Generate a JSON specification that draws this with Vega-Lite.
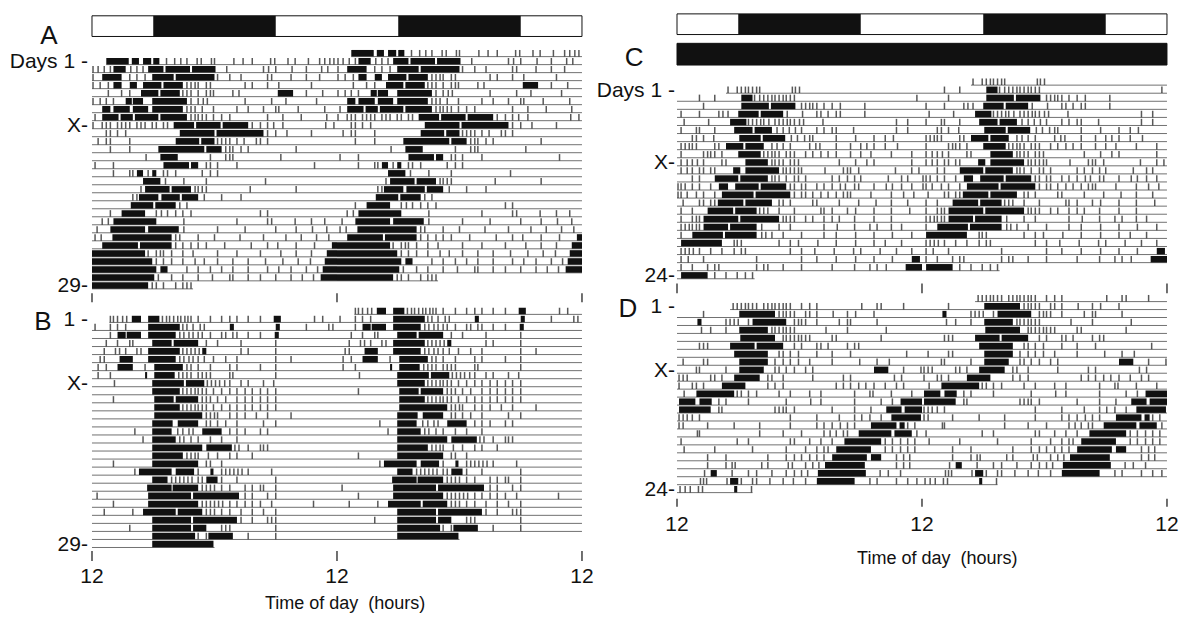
{
  "$schema": "https://vega.github.io/schema/vega-lite/v6.json",
  "width": 1183,
  "height": 620,
  "autosize": {"type": "fit", "contains": "padding"},
  "padding": 0,
  "background": "white",
  "config": {"view": {"stroke": null}, "text": {"font": "Liberation Sans", "color": "#111"}},
  "datasets": {
    "ld": [
      {"p": "A", "a": 6, "b": 18}, {"p": "A", "a": 30, "b": 42},
      {"p": "C", "a": 6, "b": 18}, {"p": "C", "a": 30, "b": 42}
    ],
    "base": [
      {"p":"A","r":1,"a":1.4,"b":24},{"p":"A","r":2,"a":0,"b":24},{"p":"A","r":3,"a":0,"b":24},{"p":"A","r":4,"a":0,"b":24},{"p":"A","r":5,"a":0,"b":24},{"p":"A","r":6,"a":0,"b":24},{"p":"A","r":7,"a":0,"b":24},{"p":"A","r":8,"a":0,"b":24},{"p":"A","r":9,"a":0,"b":24},{"p":"A","r":10,"a":0,"b":24},{"p":"A","r":11,"a":0,"b":24},{"p":"A","r":12,"a":0,"b":24},{"p":"A","r":13,"a":0,"b":24},{"p":"A","r":14,"a":0,"b":24},{"p":"A","r":15,"a":0,"b":24},{"p":"A","r":16,"a":0,"b":24},{"p":"A","r":17,"a":0,"b":24},{"p":"A","r":18,"a":0,"b":24},{"p":"A","r":19,"a":0,"b":24},{"p":"A","r":20,"a":0,"b":24},{"p":"A","r":21,"a":0,"b":24},{"p":"A","r":22,"a":0,"b":24},{"p":"A","r":23,"a":0,"b":24},{"p":"A","r":24,"a":0,"b":24},{"p":"A","r":25,"a":0,"b":24},{"p":"A","r":26,"a":0,"b":24},{"p":"A","r":27,"a":0,"b":24},{"p":"A","r":28,"a":0,"b":24},{"p":"A","r":29,"a":0,"b":9.9},
      {"p":"B","r":1,"a":1.7,"b":24},{"p":"B","r":2,"a":0,"b":24},{"p":"B","r":3,"a":0,"b":24},{"p":"B","r":4,"a":0,"b":24},{"p":"B","r":5,"a":0,"b":24},{"p":"B","r":6,"a":0,"b":24},{"p":"B","r":7,"a":0,"b":24},{"p":"B","r":8,"a":0,"b":24},{"p":"B","r":9,"a":0,"b":24},{"p":"B","r":10,"a":0,"b":24},{"p":"B","r":11,"a":0,"b":24},{"p":"B","r":12,"a":0,"b":24},{"p":"B","r":13,"a":0,"b":24},{"p":"B","r":14,"a":0,"b":24},{"p":"B","r":15,"a":0,"b":24},{"p":"B","r":16,"a":0,"b":24},{"p":"B","r":17,"a":0,"b":24},{"p":"B","r":18,"a":0,"b":24},{"p":"B","r":19,"a":0,"b":24},{"p":"B","r":20,"a":0,"b":24},{"p":"B","r":21,"a":0,"b":24},{"p":"B","r":22,"a":0,"b":24},{"p":"B","r":23,"a":0,"b":24},{"p":"B","r":24,"a":0,"b":24},{"p":"B","r":25,"a":0,"b":24},{"p":"B","r":26,"a":0,"b":24},{"p":"B","r":27,"a":0,"b":24},{"p":"B","r":28,"a":0,"b":24},{"p":"B","r":29,"a":0,"b":12.0},
      {"p":"C","r":1,"a":4.8,"b":24},{"p":"C","r":2,"a":0,"b":24},{"p":"C","r":3,"a":0,"b":24},{"p":"C","r":4,"a":0,"b":24},{"p":"C","r":5,"a":0,"b":24},{"p":"C","r":6,"a":0,"b":24},{"p":"C","r":7,"a":0,"b":24},{"p":"C","r":8,"a":0,"b":24},{"p":"C","r":9,"a":0,"b":24},{"p":"C","r":10,"a":0,"b":24},{"p":"C","r":11,"a":0,"b":24},{"p":"C","r":12,"a":0,"b":24},{"p":"C","r":13,"a":0,"b":24},{"p":"C","r":14,"a":0,"b":24},{"p":"C","r":15,"a":0,"b":24},{"p":"C","r":16,"a":0,"b":24},{"p":"C","r":17,"a":0,"b":24},{"p":"C","r":18,"a":0,"b":24},{"p":"C","r":19,"a":0,"b":24},{"p":"C","r":20,"a":0,"b":24},{"p":"C","r":21,"a":0,"b":24},{"p":"C","r":22,"a":0,"b":24},{"p":"C","r":23,"a":0,"b":24},{"p":"C","r":24,"a":0,"b":7.6},
      {"p":"D","r":1,"a":5.2,"b":24},{"p":"D","r":2,"a":0,"b":24},{"p":"D","r":3,"a":0,"b":24},{"p":"D","r":4,"a":0,"b":24},{"p":"D","r":5,"a":0,"b":24},{"p":"D","r":6,"a":0,"b":24},{"p":"D","r":7,"a":0,"b":24},{"p":"D","r":8,"a":0,"b":24},{"p":"D","r":9,"a":0,"b":24},{"p":"D","r":10,"a":0,"b":24},{"p":"D","r":11,"a":0,"b":24},{"p":"D","r":12,"a":0,"b":24},{"p":"D","r":13,"a":0,"b":24},{"p":"D","r":14,"a":0,"b":24},{"p":"D","r":15,"a":0,"b":24},{"p":"D","r":16,"a":0,"b":24},{"p":"D","r":17,"a":0,"b":24},{"p":"D","r":18,"a":0,"b":24},{"p":"D","r":19,"a":0,"b":24},{"p":"D","r":20,"a":0,"b":24},{"p":"D","r":21,"a":0,"b":24},{"p":"D","r":22,"a":0,"b":24},{"p":"D","r":23,"a":0,"b":24},{"p":"D","r":24,"a":0,"b":7.4}
    ],
    "bl": [
      {"p":"A","r":1,"a":1.4,"b":3.6},{"p":"A","r":1,"a":3.9,"b":4.6},{"p":"A","r":1,"a":5.0,"b":5.8},{"p":"A","r":1,"a":6.0,"b":6.6},
      {"p":"A","r":2,"a":2.1,"b":3.3},{"p":"A","r":2,"a":5.5,"b":7.0},{"p":"A","r":2,"a":7.2,"b":9.6},{"p":"A","r":2,"a":9.8,"b":12.1},
      {"p":"A","r":3,"a":1.0,"b":2.9},{"p":"A","r":3,"a":5.9,"b":8.0},{"p":"A","r":3,"a":8.2,"b":12.0},
      {"p":"A","r":4,"a":2.1,"b":2.9},{"p":"A","r":4,"a":3.7,"b":4.4},{"p":"A","r":4,"a":5.0,"b":6.8},{"p":"A","r":4,"a":7.0,"b":8.9},
      {"p":"A","r":5,"a":4.8,"b":6.5},{"p":"A","r":5,"a":6.7,"b":8.6},{"p":"A","r":5,"a":18.2,"b":19.7},
      {"p":"A","r":6,"a":3.3,"b":3.9},{"p":"A","r":6,"a":4.0,"b":5.0},{"p":"A","r":6,"a":5.9,"b":9.3},
      {"p":"A","r":7,"a":1.0,"b":1.8},{"p":"A","r":7,"a":2.1,"b":3.7},{"p":"A","r":7,"a":4.0,"b":5.5},{"p":"A","r":7,"a":5.9,"b":8.9},
      {"p":"A","r":8,"a":1.0,"b":2.6},{"p":"A","r":8,"a":2.8,"b":4.0},{"p":"A","r":8,"a":4.2,"b":6.5},{"p":"A","r":8,"a":6.7,"b":9.3},
      {"p":"A","r":9,"a":8.0,"b":10.0},{"p":"A","r":9,"a":10.2,"b":12.6},{"p":"A","r":9,"a":12.8,"b":15.3},
      {"p":"A","r":10,"a":8.6,"b":12.0},{"p":"A","r":10,"a":12.2,"b":16.8},
      {"p":"A","r":11,"a":8.2,"b":10.5},{"p":"A","r":11,"a":10.7,"b":12.0},
      {"p":"A","r":12,"a":6.5,"b":11.0},{"p":"A","r":12,"a":11.2,"b":12.7},
      {"p":"A","r":13,"a":6.7,"b":8.4},
      {"p":"A","r":14,"a":7.0,"b":9.5},{"p":"A","r":14,"a":9.7,"b":10.4},
      {"p":"A","r":15,"a":4.4,"b":5.0},{"p":"A","r":15,"a":5.9,"b":6.3},
      {"p":"A","r":16,"a":5.0,"b":6.7},
      {"p":"A","r":17,"a":5.2,"b":7.6},{"p":"A","r":17,"a":7.8,"b":9.7},
      {"p":"A","r":18,"a":4.6,"b":6.5},{"p":"A","r":18,"a":6.8,"b":8.6},{"p":"A","r":18,"a":8.8,"b":10.4},
      {"p":"A","r":19,"a":3.8,"b":6.0},{"p":"A","r":19,"a":6.2,"b":8.2},
      {"p":"A","r":20,"a":2.9,"b":5.2},
      {"p":"A","r":21,"a":2.1,"b":6.3},
      {"p":"A","r":22,"a":1.8,"b":5.2},{"p":"A","r":22,"a":5.5,"b":8.5},
      {"p":"A","r":23,"a":2.0,"b":7.8},
      {"p":"A","r":24,"a":1.0,"b":4.5},{"p":"A","r":24,"a":4.7,"b":7.8},{"p":"A","r":24,"a":23.5,"b":24},
      {"p":"A","r":25,"a":0,"b":5.2},{"p":"A","r":25,"a":23.0,"b":24},
      {"p":"A","r":26,"a":0,"b":5.9},{"p":"A","r":26,"a":22.8,"b":24},
      {"p":"A","r":27,"a":0,"b":6.3},{"p":"A","r":27,"a":6.7,"b":7.4},{"p":"A","r":27,"a":22.6,"b":24},
      {"p":"A","r":28,"a":0,"b":6.1},{"p":"A","r":28,"a":22.4,"b":24},
      {"p":"A","r":29,"a":0,"b":5.5},

      {"p":"B","r":1,"a":3.9,"b":4.8},{"p":"B","r":1,"a":5.5,"b":6.6},{"p":"B","r":1,"a":17.8,"b":18.5},
      {"p":"B","r":2,"a":5.5,"b":8.6},{"p":"B","r":2,"a":13.5,"b":13.9},{"p":"B","r":2,"a":18.0,"b":18.4},
      {"p":"B","r":3,"a":2.5,"b":3.3},{"p":"B","r":3,"a":3.4,"b":4.8},{"p":"B","r":3,"a":5.5,"b":8.2},{"p":"B","r":3,"a":17.9,"b":18.3},
      {"p":"B","r":4,"a":5.9,"b":7.8},{"p":"B","r":4,"a":8.0,"b":10.4},
      {"p":"B","r":5,"a":5.5,"b":8.6},{"p":"B","r":5,"a":10.8,"b":11.2},
      {"p":"B","r":6,"a":2.7,"b":4.0},{"p":"B","r":6,"a":5.5,"b":8.2},
      {"p":"B","r":7,"a":2.5,"b":4.0},{"p":"B","r":7,"a":6.1,"b":8.9},
      {"p":"B","r":8,"a":5.2,"b":5.4},{"p":"B","r":8,"a":6.1,"b":8.1},
      {"p":"B","r":9,"a":5.9,"b":9.0},{"p":"B","r":9,"a":9.2,"b":11.0},
      {"p":"B","r":10,"a":5.9,"b":8.6},
      {"p":"B","r":11,"a":6.1,"b":8.0},{"p":"B","r":11,"a":8.2,"b":10.4},
      {"p":"B","r":12,"a":6.1,"b":8.6},
      {"p":"B","r":13,"a":6.1,"b":10.8},
      {"p":"B","r":14,"a":5.9,"b":7.9},{"p":"B","r":14,"a":8.4,"b":10.4},
      {"p":"B","r":15,"a":5.9,"b":7.8},{"p":"B","r":15,"a":10.8,"b":12.7},
      {"p":"B","r":16,"a":5.9,"b":8.2},
      {"p":"B","r":17,"a":5.9,"b":10.8},{"p":"B","r":17,"a":11.2,"b":13.7},
      {"p":"B","r":18,"a":5.9,"b":8.9},
      {"p":"B","r":19,"a":5.9,"b":10.4},
      {"p":"B","r":20,"a":4.6,"b":7.8},{"p":"B","r":20,"a":8.2,"b":10.0},{"p":"B","r":20,"a":11.6,"b":11.9},
      {"p":"B","r":21,"a":5.9,"b":7.4},{"p":"B","r":21,"a":11.2,"b":12.3},
      {"p":"B","r":22,"a":5.4,"b":7.8},{"p":"B","r":22,"a":7.9,"b":10.4},
      {"p":"B","r":23,"a":5.5,"b":9.7},{"p":"B","r":23,"a":9.9,"b":14.4},
      {"p":"B","r":24,"a":5.5,"b":10.4},
      {"p":"B","r":25,"a":5.0,"b":8.2},{"p":"B","r":25,"a":8.4,"b":10.8},
      {"p":"B","r":26,"a":5.9,"b":9.7},{"p":"B","r":26,"a":9.9,"b":14.2},
      {"p":"B","r":27,"a":5.9,"b":9.7},{"p":"B","r":27,"a":9.9,"b":11.2},
      {"p":"B","r":28,"a":5.9,"b":10.1},{"p":"B","r":28,"a":11.4,"b":13.8},
      {"p":"B","r":29,"a":5.9,"b":11.9},

      {"p":"C","r":2,"a":6.3,"b":7.4},
      {"p":"C","r":3,"a":6.3,"b":9.0},{"p":"C","r":3,"a":9.2,"b":11.6},
      {"p":"C","r":4,"a":6.0,"b":8.0},{"p":"C","r":4,"a":8.2,"b":10.4},
      {"p":"C","r":5,"a":5.2,"b":6.8},
      {"p":"C","r":6,"a":5.6,"b":7.4},{"p":"C","r":6,"a":7.6,"b":9.3},
      {"p":"C","r":7,"a":6.1,"b":8.2},{"p":"C","r":7,"a":8.4,"b":10.6},
      {"p":"C","r":8,"a":4.8,"b":6.5},{"p":"C","r":8,"a":6.7,"b":8.5},
      {"p":"C","r":9,"a":6.0,"b":8.2},
      {"p":"C","r":10,"a":6.7,"b":8.9},
      {"p":"C","r":11,"a":5.5,"b":6.2},{"p":"C","r":11,"a":6.7,"b":10.0},
      {"p":"C","r":12,"a":3.7,"b":6.0},{"p":"C","r":12,"a":6.2,"b":8.9},
      {"p":"C","r":13,"a":4.1,"b":5.0},{"p":"C","r":13,"a":5.7,"b":8.0},{"p":"C","r":13,"a":8.2,"b":10.7},
      {"p":"C","r":14,"a":4.4,"b":7.5},{"p":"C","r":14,"a":7.7,"b":11.1},
      {"p":"C","r":15,"a":4.0,"b":6.5},{"p":"C","r":15,"a":6.7,"b":9.3},
      {"p":"C","r":16,"a":3.0,"b":5.5},{"p":"C","r":16,"a":5.7,"b":7.8},
      {"p":"C","r":17,"a":2.6,"b":6.0},{"p":"C","r":17,"a":6.2,"b":10.0},
      {"p":"C","r":18,"a":2.6,"b":5.0},{"p":"C","r":18,"a":5.2,"b":7.8},
      {"p":"C","r":19,"a":1.5,"b":4.5},{"p":"C","r":19,"a":4.7,"b":7.8},
      {"p":"C","r":20,"a":0.4,"b":4.4},
      {"p":"C","r":22,"a":23.0,"b":23.8},
      {"p":"C","r":23,"a":22.4,"b":24},
      {"p":"C","r":24,"a":0.4,"b":3.0},

      {"p":"D","r":2,"a":6.1,"b":9.6},
      {"p":"D","r":3,"a":2.0,"b":2.4},{"p":"D","r":3,"a":7.4,"b":10.7},
      {"p":"D","r":4,"a":6.1,"b":8.9},
      {"p":"D","r":5,"a":6.2,"b":9.6},
      {"p":"D","r":6,"a":5.2,"b":7.6},{"p":"D","r":6,"a":7.8,"b":10.4},
      {"p":"D","r":7,"a":5.6,"b":8.9},
      {"p":"D","r":8,"a":6.1,"b":8.9},
      {"p":"D","r":9,"a":6.1,"b":8.5},{"p":"D","r":9,"a":19.3,"b":20.7},
      {"p":"D","r":10,"a":5.6,"b":8.1},
      {"p":"D","r":11,"a":4.4,"b":6.7},
      {"p":"D","r":12,"a":1.9,"b":5.6},
      {"p":"D","r":13,"a":0.2,"b":1.8},{"p":"D","r":13,"a":2.2,"b":3.4},{"p":"D","r":13,"a":21.9,"b":24},
      {"p":"D","r":14,"a":0.2,"b":3.3},{"p":"D","r":14,"a":20.5,"b":22.0},{"p":"D","r":14,"a":22.3,"b":24},
      {"p":"D","r":15,"a":21.0,"b":23.9},
      {"p":"D","r":16,"a":19.0,"b":21.5},{"p":"D","r":16,"a":21.8,"b":22.3},
      {"p":"D","r":17,"a":17.8,"b":21.0},{"p":"D","r":17,"a":21.3,"b":23.0},
      {"p":"D","r":18,"a":16.4,"b":20.0},
      {"p":"D","r":19,"a":15.6,"b":19.0},
      {"p":"D","r":20,"a":15.2,"b":18.6},{"p":"D","r":20,"a":19.0,"b":20.0},
      {"p":"D","r":21,"a":14.5,"b":18.4},
      {"p":"D","r":22,"a":3.3,"b":3.9},{"p":"D","r":22,"a":13.8,"b":18.5},
      {"p":"D","r":23,"a":5.2,"b":6.0},{"p":"D","r":23,"a":13.7,"b":17.4},
      {"p":"D","r":24,"a":5.6,"b":5.9}
    ],
    "tk": [
      {"p":"A","r":1,"a":7.3},{"p":"A","r":1,"a":8.1},{"p":"A","r":1,"a":8.7},{"p":"A","r":1,"a":9.3},{"p":"A","r":1,"a":10.3},{"p":"A","r":1,"a":10.7},{"p":"A","r":1,"a":11.7},{"p":"A","r":1,"a":12.0},{"p":"A","r":1,"a":13.9},{"p":"A","r":1,"a":14.8},{"p":"A","r":1,"a":15.7},{"p":"A","r":1,"a":17.5},{"p":"A","r":1,"a":17.9},{"p":"A","r":1,"a":19.2},{"p":"A","r":1,"a":19.9},{"p":"A","r":1,"a":21.2},{"p":"A","r":1,"a":22.3},{"p":"A","r":1,"a":22.8},{"p":"A","r":1,"a":23.3},{"p":"A","r":1,"a":23.7},
      {"p":"A","r":2,"a":0.1},{"p":"A","r":2,"a":0.6},{"p":"A","r":2,"a":1.2},{"p":"A","r":2,"a":1.8},{"p":"A","r":2,"a":3.8},{"p":"A","r":2,"a":4.4},{"p":"A","r":2,"a":5.0},{"p":"A","r":2,"a":13.2},{"p":"A","r":2,"a":16.8},{"p":"A","r":2,"a":17.3},{"p":"A","r":2,"a":18.0},{"p":"A","r":2,"a":19.6},{"p":"A","r":2,"a":21.0},{"p":"A","r":2,"a":22.5},{"p":"A","r":2,"a":23.1},
      {"p":"A","r":3,"a":0.1},{"p":"A","r":3,"a":3.7},{"p":"A","r":3,"a":4.4},{"p":"A","r":3,"a":5.2},{"p":"A","r":3,"a":12.3},{"p":"A","r":3,"a":13.5},{"p":"A","r":3,"a":14.6},{"p":"A","r":3,"a":17.2},{"p":"A","r":3,"a":17.6},{"p":"A","r":3,"a":19.5},{"p":"A","r":3,"a":21.0},{"p":"A","r":3,"a":22.3},
      {"p":"A","r":4,"a":0.1},{"p":"A","r":4,"a":0.8},{"p":"A","r":4,"a":1.6},{"p":"A","r":4,"a":9.3},{"p":"A","r":4,"a":9.7},{"p":"A","r":4,"a":10.1},{"p":"A","r":4,"a":10.4},{"p":"A","r":4,"a":11.2},{"p":"A","r":4,"a":11.6},{"p":"A","r":4,"a":15.0},{"p":"A","r":4,"a":15.7},{"p":"A","r":4,"a":17.2},{"p":"A","r":4,"a":18.3},{"p":"A","r":4,"a":21.5},
      {"p":"A","r":5,"a":1.6},{"p":"A","r":5,"a":2.9},{"p":"A","r":5,"a":3.7},{"p":"A","r":5,"a":8.9},{"p":"A","r":5,"a":9.3},{"p":"A","r":5,"a":9.7},{"p":"A","r":5,"a":10.4},{"p":"A","r":5,"a":11.2},{"p":"A","r":5,"a":11.6},{"p":"A","r":5,"a":11.9},{"p":"A","r":5,"a":13.8},{"p":"A","r":5,"a":14.4},{"p":"A","r":5,"a":21.0},{"p":"A","r":5,"a":22.6},
      {"p":"A","r":6,"a":0.1},{"p":"A","r":6,"a":0.8},{"p":"A","r":6,"a":1.4},{"p":"A","r":6,"a":2.1},{"p":"A","r":6,"a":9.7},{"p":"A","r":6,"a":10.4},{"p":"A","r":6,"a":10.9},{"p":"A","r":6,"a":11.3},{"p":"A","r":6,"a":15.0},{"p":"A","r":6,"a":17.6},{"p":"A","r":6,"a":19.0},{"p":"A","r":6,"a":22.0},
      {"p":"A","r":7,"a":9.3},{"p":"A","r":7,"a":9.7},{"p":"A","r":7,"a":10.1},{"p":"A","r":7,"a":10.8},{"p":"A","r":7,"a":11.9},{"p":"A","r":7,"a":14.2},{"p":"A","r":7,"a":15.3},{"p":"A","r":7,"a":16.8},{"p":"A","r":7,"a":18.0},{"p":"A","r":7,"a":18.3},{"p":"A","r":7,"a":20.2},{"p":"A","r":7,"a":22.8},
      {"p":"A","r":8,"a":0.3},{"p":"A","r":8,"a":9.7},{"p":"A","r":8,"a":10.1},{"p":"A","r":8,"a":10.4},{"p":"A","r":8,"a":10.8},{"p":"A","r":8,"a":11.2},{"p":"A","r":8,"a":11.9},{"p":"A","r":8,"a":12.7},{"p":"A","r":8,"a":13.5},{"p":"A","r":8,"a":17.2},{"p":"A","r":8,"a":18.7},{"p":"A","r":8,"a":20.5},{"p":"A","r":8,"a":23.0},
      {"p":"A","r":9,"a":0.1},{"p":"A","r":9,"a":1.0},{"p":"A","r":9,"a":1.4},{"p":"A","r":9,"a":1.8},{"p":"A","r":9,"a":2.5},{"p":"A","r":9,"a":2.9},{"p":"A","r":9,"a":3.3},{"p":"A","r":9,"a":3.7},{"p":"A","r":9,"a":4.4},{"p":"A","r":9,"a":4.8},{"p":"A","r":9,"a":5.2},{"p":"A","r":9,"a":5.9},{"p":"A","r":9,"a":6.3},{"p":"A","r":9,"a":7.0},{"p":"A","r":9,"a":7.4},{"p":"A","r":9,"a":15.7},{"p":"A","r":9,"a":16.5},{"p":"A","r":9,"a":17.2},{"p":"A","r":9,"a":17.8},{"p":"A","r":9,"a":18.7},{"p":"A","r":9,"a":22.9},{"p":"A","r":9,"a":23.7},
      {"p":"A","r":10,"a":1.4},{"p":"A","r":10,"a":1.8},{"p":"A","r":10,"a":2.5},{"p":"A","r":10,"a":3.3},{"p":"A","r":10,"a":17.2},{"p":"A","r":10,"a":18.0},{"p":"A","r":10,"a":19.1},{"p":"A","r":10,"a":21.5},
      {"p":"A","r":11,"a":0.6},{"p":"A","r":11,"a":1.4},{"p":"A","r":11,"a":1.8},{"p":"A","r":11,"a":3.7},{"p":"A","r":11,"a":12.3},{"p":"A","r":11,"a":12.7},{"p":"A","r":11,"a":13.1},{"p":"A","r":11,"a":13.5},{"p":"A","r":11,"a":14.2},{"p":"A","r":11,"a":14.9},{"p":"A","r":11,"a":16.1},{"p":"A","r":11,"a":16.5},{"p":"A","r":11,"a":17.2},
      {"p":"A","r":12,"a":1.8},{"p":"A","r":12,"a":3.7},{"p":"A","r":12,"a":13.1},{"p":"A","r":12,"a":13.5},{"p":"A","r":12,"a":13.8},{"p":"A","r":12,"a":14.6},{"p":"A","r":12,"a":15.3},{"p":"A","r":12,"a":20.0},
      {"p":"A","r":13,"a":5.3},{"p":"A","r":13,"a":11.6},{"p":"A","r":13,"a":13.1},{"p":"A","r":13,"a":13.5},{"p":"A","r":13,"a":13.8},{"p":"A","r":13,"a":18.5},
      {"p":"A","r":14,"a":0.3},{"p":"A","r":14,"a":2.1},{"p":"A","r":14,"a":11.2},{"p":"A","r":14,"a":11.6},{"p":"A","r":14,"a":12.3},{"p":"A","r":14,"a":14.2},{"p":"A","r":14,"a":21.8},
      {"p":"A","r":15,"a":2.1},{"p":"A","r":15,"a":3.7},{"p":"A","r":15,"a":4.0},{"p":"A","r":15,"a":5.5},{"p":"A","r":15,"a":7.0},{"p":"A","r":15,"a":7.4},{"p":"A","r":15,"a":8.2},{"p":"A","r":15,"a":10.8},{"p":"A","r":15,"a":11.6},{"p":"A","r":15,"a":12.3},
      {"p":"A","r":16,"a":7.2},{"p":"A","r":16,"a":9.0},{"p":"A","r":16,"a":11.2},{"p":"A","r":16,"a":17.0},
      {"p":"A","r":17,"a":4.8},{"p":"A","r":17,"a":10.1},{"p":"A","r":17,"a":10.4},{"p":"A","r":17,"a":10.8},{"p":"A","r":17,"a":11.2},{"p":"A","r":17,"a":15.5},{"p":"A","r":17,"a":20.0},
      {"p":"A","r":18,"a":4.0},{"p":"A","r":18,"a":4.4},{"p":"A","r":18,"a":11.0},{"p":"A","r":18,"a":12.7},{"p":"A","r":18,"a":14.6},
      {"p":"A","r":19,"a":8.6},{"p":"A","r":19,"a":9.3},
      {"p":"A","r":20,"a":1.8},{"p":"A","r":20,"a":6.3},{"p":"A","r":20,"a":6.8},{"p":"A","r":20,"a":7.4},{"p":"A","r":20,"a":8.2},{"p":"A","r":20,"a":8.9},{"p":"A","r":20,"a":9.7},{"p":"A","r":20,"a":16.5},{"p":"A","r":20,"a":17.2},
      {"p":"A","r":21,"a":1.0},{"p":"A","r":21,"a":1.6},{"p":"A","r":21,"a":9.0},{"p":"A","r":21,"a":14.2},{"p":"A","r":21,"a":17.2},{"p":"A","r":21,"a":17.6},{"p":"A","r":21,"a":19.9},{"p":"A","r":21,"a":21.5},{"p":"A","r":21,"a":22.8},
      {"p":"A","r":22,"a":0.5},{"p":"A","r":22,"a":9.0},{"p":"A","r":22,"a":12.3},{"p":"A","r":22,"a":15.0},{"p":"A","r":22,"a":18.0},{"p":"A","r":22,"a":20.0},{"p":"A","r":22,"a":21.6},{"p":"A","r":22,"a":23.0},
      {"p":"A","r":23,"a":0.3},{"p":"A","r":23,"a":0.9},{"p":"A","r":23,"a":8.2},{"p":"A","r":23,"a":8.6},{"p":"A","r":23,"a":10.4},{"p":"A","r":23,"a":12.0},{"p":"A","r":23,"a":14.5},{"p":"A","r":23,"a":16.8},{"p":"A","r":23,"a":19.0},{"p":"A","r":23,"a":20.5},{"p":"A","r":23,"a":22.0},{"p":"A","r":23,"a":23.2},
      {"p":"A","r":24,"a":8.2},{"p":"A","r":24,"a":8.9},{"p":"A","r":24,"a":9.7},{"p":"A","r":24,"a":10.4},{"p":"A","r":24,"a":11.2},{"p":"A","r":24,"a":13.0},{"p":"A","r":24,"a":15.6},{"p":"A","r":24,"a":17.2},{"p":"A","r":24,"a":18.2},{"p":"A","r":24,"a":20.0},{"p":"A","r":24,"a":21.8},
      {"p":"A","r":25,"a":5.5},{"p":"A","r":25,"a":6.3},{"p":"A","r":25,"a":6.7},{"p":"A","r":25,"a":7.0},{"p":"A","r":25,"a":7.8},{"p":"A","r":25,"a":8.9},{"p":"A","r":25,"a":9.9},{"p":"A","r":25,"a":12.3},{"p":"A","r":25,"a":14.2},{"p":"A","r":25,"a":16.5},{"p":"A","r":25,"a":18.5},{"p":"A","r":25,"a":20.0},{"p":"A","r":25,"a":21.5},
      {"p":"A","r":26,"a":6.3},{"p":"A","r":26,"a":7.0},{"p":"A","r":26,"a":7.8},{"p":"A","r":26,"a":8.9},{"p":"A","r":26,"a":10.1},{"p":"A","r":26,"a":11.0},{"p":"A","r":26,"a":12.3},{"p":"A","r":26,"a":13.8},{"p":"A","r":26,"a":15.3},{"p":"A","r":26,"a":17.0},{"p":"A","r":26,"a":18.7},{"p":"A","r":26,"a":20.2},{"p":"A","r":26,"a":21.4},
      {"p":"A","r":27,"a":9.3},{"p":"A","r":27,"a":10.4},{"p":"A","r":27,"a":11.6},{"p":"A","r":27,"a":12.7},{"p":"A","r":27,"a":13.8},{"p":"A","r":27,"a":15.3},{"p":"A","r":27,"a":17.2},{"p":"A","r":27,"a":18.3},{"p":"A","r":27,"a":19.5},{"p":"A","r":27,"a":21.0},{"p":"A","r":27,"a":22.1},
      {"p":"A","r":28,"a":6.5},{"p":"A","r":28,"a":7.8},{"p":"A","r":28,"a":8.9},{"p":"A","r":28,"a":10.4},{"p":"A","r":28,"a":11.8},{"p":"A","r":28,"a":13.5},{"p":"A","r":28,"a":13.8},{"p":"A","r":28,"a":15.3},{"p":"A","r":28,"a":16.5},{"p":"A","r":28,"a":18.0},{"p":"A","r":28,"a":19.5},{"p":"A","r":28,"a":20.6},{"p":"A","r":28,"a":21.7},
      {"p":"A","r":29,"a":5.9},{"p":"A","r":29,"a":6.3},{"p":"A","r":29,"a":7.0},{"p":"A","r":29,"a":8.2},{"p":"A","r":29,"a":8.9},{"p":"A","r":29,"a":9.3},{"p":"A","r":29,"a":9.7},

      {"p":"B","r":1,"a":1.8},{"p":"B","r":1,"a":2.1},{"p":"B","r":1,"a":2.5},{"p":"B","r":1,"a":3.0},{"p":"B","r":1,"a":3.4},{"p":"B","r":1,"a":6.9},{"p":"B","r":1,"a":7.3},{"p":"B","r":1,"a":7.6},{"p":"B","r":1,"a":8.0},{"p":"B","r":1,"a":8.4},{"p":"B","r":1,"a":8.7},{"p":"B","r":1,"a":9.1},{"p":"B","r":1,"a":9.4},{"p":"B","r":1,"a":9.7},{"p":"B","r":1,"a":10.4},{"p":"B","r":1,"a":11.6},{"p":"B","r":1,"a":12.7},{"p":"B","r":1,"a":13.5},{"p":"B","r":1,"a":14.2},{"p":"B","r":1,"a":15.3},{"p":"B","r":1,"a":16.5},{"p":"B","r":1,"a":21.8},{"p":"B","r":1,"a":22.6},
      {"p":"B","r":2,"a":0.3},{"p":"B","r":2,"a":1.8},{"p":"B","r":2,"a":2.5},{"p":"B","r":2,"a":3.3},{"p":"B","r":2,"a":8.9},{"p":"B","r":2,"a":9.3},{"p":"B","r":2,"a":9.9},{"p":"B","r":2,"a":10.6},{"p":"B","r":2,"a":11.0},{"p":"B","r":2,"a":21.0},{"p":"B","r":2,"a":23.2},{"p":"B","r":2,"a":23.6},
      {"p":"B","r":3,"a":1.8},{"p":"B","r":3,"a":8.6},{"p":"B","r":3,"a":9.0},{"p":"B","r":3,"a":9.5},{"p":"B","r":3,"a":9.9},{"p":"B","r":3,"a":10.4},{"p":"B","r":3,"a":10.8},{"p":"B","r":3,"a":11.6},{"p":"B","r":3,"a":12.7},{"p":"B","r":3,"a":13.1},{"p":"B","r":3,"a":13.8},{"p":"B","r":3,"a":14.2},{"p":"B","r":3,"a":15.3},{"p":"B","r":3,"a":16.5},
      {"p":"B","r":4,"a":1.4},{"p":"B","r":4,"a":2.5},{"p":"B","r":4,"a":3.7},{"p":"B","r":4,"a":4.0},{"p":"B","r":4,"a":11.2},{"p":"B","r":4,"a":12.3},{"p":"B","r":4,"a":14.6},{"p":"B","r":4,"a":18.0},
      {"p":"B","r":5,"a":1.2},{"p":"B","r":5,"a":2.3},{"p":"B","r":5,"a":2.7},{"p":"B","r":5,"a":3.3},{"p":"B","r":5,"a":4.4},{"p":"B","r":5,"a":4.8},{"p":"B","r":5,"a":8.9},{"p":"B","r":5,"a":9.3},{"p":"B","r":5,"a":9.7},{"p":"B","r":5,"a":10.1},{"p":"B","r":5,"a":10.5},{"p":"B","r":5,"a":14.6},{"p":"B","r":5,"a":15.3},{"p":"B","r":5,"a":18.0},
      {"p":"B","r":6,"a":0.8},{"p":"B","r":6,"a":1.2},{"p":"B","r":6,"a":8.6},{"p":"B","r":6,"a":9.0},{"p":"B","r":6,"a":9.5},{"p":"B","r":6,"a":9.9},{"p":"B","r":6,"a":10.4},{"p":"B","r":6,"a":11.0},{"p":"B","r":6,"a":11.9},{"p":"B","r":6,"a":13.1},{"p":"B","r":6,"a":14.2},{"p":"B","r":6,"a":18.0},{"p":"B","r":6,"a":19.5},
      {"p":"B","r":7,"a":0.6},{"p":"B","r":7,"a":1.4},{"p":"B","r":7,"a":5.2},{"p":"B","r":7,"a":9.3},{"p":"B","r":7,"a":9.7},{"p":"B","r":7,"a":10.4},{"p":"B","r":7,"a":11.6},{"p":"B","r":7,"a":13.5},{"p":"B","r":7,"a":14.2},{"p":"B","r":7,"a":16.5},{"p":"B","r":7,"a":18.0},
      {"p":"B","r":8,"a":0.6},{"p":"B","r":8,"a":1.8},{"p":"B","r":8,"a":8.5},{"p":"B","r":8,"a":8.9},{"p":"B","r":8,"a":9.3},{"p":"B","r":8,"a":9.7},{"p":"B","r":8,"a":10.4},{"p":"B","r":8,"a":10.8},{"p":"B","r":8,"a":11.2},{"p":"B","r":8,"a":11.6},{"p":"B","r":8,"a":13.5},{"p":"B","r":8,"a":13.8},{"p":"B","r":8,"a":18.0},
      {"p":"B","r":9,"a":2.2},{"p":"B","r":9,"a":11.3},{"p":"B","r":9,"a":11.7},{"p":"B","r":9,"a":12.1},{"p":"B","r":9,"a":12.5},{"p":"B","r":9,"a":13.0},{"p":"B","r":9,"a":13.5},{"p":"B","r":9,"a":14.6},{"p":"B","r":9,"a":15.3},{"p":"B","r":9,"a":16.8},{"p":"B","r":9,"a":17.8},
      {"p":"B","r":10,"a":8.9},{"p":"B","r":10,"a":9.3},{"p":"B","r":10,"a":9.7},{"p":"B","r":10,"a":10.1},{"p":"B","r":10,"a":10.4},{"p":"B","r":10,"a":10.8},{"p":"B","r":10,"a":11.2},{"p":"B","r":10,"a":11.9},{"p":"B","r":10,"a":12.7},{"p":"B","r":10,"a":13.5},{"p":"B","r":10,"a":14.2},{"p":"B","r":10,"a":15.0},{"p":"B","r":10,"a":15.7},{"p":"B","r":10,"a":16.5},{"p":"B","r":10,"a":17.2},{"p":"B","r":10,"a":18.0},
      {"p":"B","r":11,"a":2.1},{"p":"B","r":11,"a":10.8},{"p":"B","r":11,"a":11.2},{"p":"B","r":11,"a":11.6},{"p":"B","r":11,"a":12.3},{"p":"B","r":11,"a":13.1},{"p":"B","r":11,"a":14.2},{"p":"B","r":11,"a":15.0},{"p":"B","r":11,"a":15.7},{"p":"B","r":11,"a":16.5},{"p":"B","r":11,"a":17.2},{"p":"B","r":11,"a":18.0},
      {"p":"B","r":12,"a":8.9},{"p":"B","r":12,"a":9.3},{"p":"B","r":12,"a":9.7},{"p":"B","r":12,"a":10.1},{"p":"B","r":12,"a":10.4},{"p":"B","r":12,"a":10.8},{"p":"B","r":12,"a":11.2},{"p":"B","r":12,"a":11.9},{"p":"B","r":12,"a":12.7},{"p":"B","r":12,"a":13.5},{"p":"B","r":12,"a":14.2},{"p":"B","r":12,"a":15.0},{"p":"B","r":12,"a":15.7},{"p":"B","r":12,"a":16.5},{"p":"B","r":12,"a":17.2},{"p":"B","r":12,"a":18.0},
      {"p":"B","r":13,"a":11.2},{"p":"B","r":13,"a":11.6},{"p":"B","r":13,"a":12.0},{"p":"B","r":13,"a":12.3},{"p":"B","r":13,"a":13.5},{"p":"B","r":13,"a":14.2},{"p":"B","r":13,"a":15.0},{"p":"B","r":13,"a":16.1},{"p":"B","r":13,"a":17.2},{"p":"B","r":13,"a":19.5},
      {"p":"B","r":14,"a":11.2},{"p":"B","r":14,"a":11.6},{"p":"B","r":14,"a":12.3},{"p":"B","r":14,"a":13.1},{"p":"B","r":14,"a":14.2},{"p":"B","r":14,"a":16.8},{"p":"B","r":14,"a":18.0},
      {"p":"B","r":15,"a":4.2},{"p":"B","r":15,"a":8.4},{"p":"B","r":15,"a":8.9},{"p":"B","r":15,"a":9.5},{"p":"B","r":15,"a":9.9},{"p":"B","r":15,"a":13.5},{"p":"B","r":15,"a":14.2},{"p":"B","r":15,"a":15.0},{"p":"B","r":15,"a":16.5},{"p":"B","r":15,"a":17.2},
      {"p":"B","r":16,"a":5.0},{"p":"B","r":16,"a":8.6},{"p":"B","r":16,"a":9.0},{"p":"B","r":16,"a":9.7},{"p":"B","r":16,"a":10.4},{"p":"B","r":16,"a":11.6},{"p":"B","r":16,"a":12.7},{"p":"B","r":16,"a":14.2},
      {"p":"B","r":17,"a":14.0},{"p":"B","r":17,"a":14.4},{"p":"B","r":17,"a":15.3},{"p":"B","r":17,"a":16.5},{"p":"B","r":17,"a":16.8},{"p":"B","r":17,"a":17.2},
      {"p":"B","r":18,"a":9.3},{"p":"B","r":18,"a":9.7},{"p":"B","r":18,"a":10.1},{"p":"B","r":18,"a":10.4},{"p":"B","r":18,"a":11.4},{"p":"B","r":18,"a":12.3},{"p":"B","r":18,"a":13.5},{"p":"B","r":18,"a":14.2},{"p":"B","r":18,"a":15.7},
      {"p":"B","r":19,"a":2.1},{"p":"B","r":19,"a":11.2},{"p":"B","r":19,"a":11.6},{"p":"B","r":19,"a":12.7},
      {"p":"B","r":20,"a":4.2},{"p":"B","r":20,"a":10.4},{"p":"B","r":20,"a":12.7},{"p":"B","r":20,"a":13.1},{"p":"B","r":20,"a":13.5},{"p":"B","r":20,"a":13.9},{"p":"B","r":20,"a":14.3},{"p":"B","r":20,"a":14.7},{"p":"B","r":20,"a":15.3},{"p":"B","r":20,"a":17.6},
      {"p":"B","r":21,"a":7.8},{"p":"B","r":21,"a":8.2},{"p":"B","r":21,"a":8.6},{"p":"B","r":21,"a":9.0},{"p":"B","r":21,"a":9.4},{"p":"B","r":21,"a":9.8},{"p":"B","r":21,"a":10.4},{"p":"B","r":21,"a":10.8},{"p":"B","r":21,"a":12.7},{"p":"B","r":21,"a":14.2},{"p":"B","r":21,"a":18.0},
      {"p":"B","r":22,"a":10.8},{"p":"B","r":22,"a":11.2},{"p":"B","r":22,"a":11.6},{"p":"B","r":22,"a":12.0},{"p":"B","r":22,"a":12.7},{"p":"B","r":22,"a":13.5},{"p":"B","r":22,"a":15.0},{"p":"B","r":22,"a":15.7},{"p":"B","r":22,"a":16.5},{"p":"B","r":22,"a":16.8},{"p":"B","r":22,"a":18.0},
      {"p":"B","r":23,"a":0.5},{"p":"B","r":23,"a":15.0},{"p":"B","r":23,"a":15.7},{"p":"B","r":23,"a":17.2},{"p":"B","r":23,"a":18.0},
      {"p":"B","r":24,"a":2.1},{"p":"B","r":24,"a":10.8},{"p":"B","r":24,"a":11.2},{"p":"B","r":24,"a":11.6},{"p":"B","r":24,"a":12.0},{"p":"B","r":24,"a":12.4},{"p":"B","r":24,"a":12.8},{"p":"B","r":24,"a":13.5},{"p":"B","r":24,"a":14.2},{"p":"B","r":24,"a":15.0},{"p":"B","r":24,"a":15.7},{"p":"B","r":24,"a":16.5},{"p":"B","r":24,"a":17.6},{"p":"B","r":24,"a":21.7},
      {"p":"B","r":25,"a":1.2},{"p":"B","r":25,"a":4.0},{"p":"B","r":25,"a":11.2},{"p":"B","r":25,"a":11.6},{"p":"B","r":25,"a":12.0},{"p":"B","r":25,"a":12.7},{"p":"B","r":25,"a":13.5},{"p":"B","r":25,"a":14.6},{"p":"B","r":25,"a":15.7},{"p":"B","r":25,"a":16.8},{"p":"B","r":25,"a":18.0},
      {"p":"B","r":26,"a":14.6},{"p":"B","r":26,"a":15.7},{"p":"B","r":26,"a":17.2},{"p":"B","r":26,"a":17.6},{"p":"B","r":26,"a":18.0},
      {"p":"B","r":27,"a":3.7},{"p":"B","r":27,"a":12.7},{"p":"B","r":27,"a":13.1},{"p":"B","r":27,"a":13.5},{"p":"B","r":27,"a":18.0},
      {"p":"B","r":28,"a":10.4},{"p":"B","r":28,"a":11.2},{"p":"B","r":28,"a":15.3},{"p":"B","r":28,"a":18.0},

      {"p":"C","r":1,"a":5.0},{"p":"C","r":1,"a":5.9},{"p":"C","r":1,"a":6.3},{"p":"C","r":1,"a":6.7},{"p":"C","r":1,"a":7.0},{"p":"C","r":1,"a":7.4},{"p":"C","r":1,"a":7.8},{"p":"C","r":1,"a":8.1},{"p":"C","r":1,"a":11.3},{"p":"C","r":1,"a":11.6},{"p":"C","r":1,"a":12.0},
      {"p":"C","r":2,"a":2.2},{"p":"C","r":2,"a":3.7},{"p":"C","r":2,"a":7.6},{"p":"C","r":2,"a":8.1},{"p":"C","r":2,"a":8.5},{"p":"C","r":2,"a":8.9},{"p":"C","r":2,"a":9.3},{"p":"C","r":2,"a":9.6},{"p":"C","r":2,"a":10.0},{"p":"C","r":2,"a":10.4},{"p":"C","r":2,"a":10.7},{"p":"C","r":2,"a":11.1},{"p":"C","r":2,"a":11.5},{"p":"C","r":2,"a":23.5},
      {"p":"C","r":3,"a":2.6},{"p":"C","r":3,"a":12.2},{"p":"C","r":3,"a":12.6},{"p":"C","r":3,"a":13.0},{"p":"C","r":3,"a":13.3},{"p":"C","r":3,"a":13.7},{"p":"C","r":3,"a":14.4},{"p":"C","r":3,"a":15.2},{"p":"C","r":3,"a":16.0},{"p":"C","r":3,"a":18.4},
      {"p":"C","r":4,"a":0.4},{"p":"C","r":4,"a":2.2},{"p":"C","r":4,"a":4.1},{"p":"C","r":4,"a":4.5},{"p":"C","r":4,"a":5.0},{"p":"C","r":4,"a":10.8},{"p":"C","r":4,"a":12.3},{"p":"C","r":4,"a":13.7},{"p":"C","r":4,"a":14.1},{"p":"C","r":4,"a":14.8},{"p":"C","r":4,"a":15.6},{"p":"C","r":4,"a":16.0},{"p":"C","r":4,"a":18.4},
      {"p":"C","r":5,"a":0.7},{"p":"C","r":5,"a":3.1},{"p":"C","r":5,"a":7.0},{"p":"C","r":5,"a":7.4},{"p":"C","r":5,"a":7.8},{"p":"C","r":5,"a":8.2},{"p":"C","r":5,"a":8.5},{"p":"C","r":5,"a":9.0},{"p":"C","r":5,"a":9.6},{"p":"C","r":5,"a":10.0},{"p":"C","r":5,"a":10.4},{"p":"C","r":5,"a":10.8},{"p":"C","r":5,"a":11.1},{"p":"C","r":5,"a":11.5},{"p":"C","r":5,"a":12.0},{"p":"C","r":5,"a":12.4},{"p":"C","r":5,"a":14.3},{"p":"C","r":5,"a":21.5},{"p":"C","r":5,"a":22.6},
      {"p":"C","r":6,"a":0.4},{"p":"C","r":6,"a":1.9},{"p":"C","r":6,"a":2.2},{"p":"C","r":6,"a":3.7},{"p":"C","r":6,"a":9.8},{"p":"C","r":6,"a":10.4},{"p":"C","r":6,"a":11.0},{"p":"C","r":6,"a":11.6},{"p":"C","r":6,"a":12.2},{"p":"C","r":6,"a":13.7},{"p":"C","r":6,"a":14.4},{"p":"C","r":6,"a":15.2},{"p":"C","r":6,"a":15.6},{"p":"C","r":6,"a":17.3},{"p":"C","r":6,"a":21.5},{"p":"C","r":6,"a":22.6},
      {"p":"C","r":7,"a":1.5},{"p":"C","r":7,"a":1.9},{"p":"C","r":7,"a":2.6},{"p":"C","r":7,"a":3.6},{"p":"C","r":7,"a":11.2},{"p":"C","r":7,"a":11.8},{"p":"C","r":7,"a":12.5},{"p":"C","r":7,"a":13.0},{"p":"C","r":7,"a":13.3},{"p":"C","r":7,"a":15.6},{"p":"C","r":7,"a":17.5},{"p":"C","r":7,"a":19.3},{"p":"C","r":7,"a":20.4},{"p":"C","r":7,"a":21.2},
      {"p":"C","r":8,"a":0.4},{"p":"C","r":8,"a":0.8},{"p":"C","r":8,"a":1.2},{"p":"C","r":8,"a":1.5},{"p":"C","r":8,"a":1.9},{"p":"C","r":8,"a":3.7},{"p":"C","r":8,"a":4.1},{"p":"C","r":8,"a":9.3},{"p":"C","r":8,"a":9.8},{"p":"C","r":8,"a":10.4},{"p":"C","r":8,"a":11.1},{"p":"C","r":8,"a":13.0},{"p":"C","r":8,"a":13.6},{"p":"C","r":8,"a":14.0},{"p":"C","r":8,"a":15.6},{"p":"C","r":8,"a":17.0},{"p":"C","r":8,"a":18.0},{"p":"C","r":8,"a":18.6},{"p":"C","r":8,"a":19.3},{"p":"C","r":8,"a":20.4},{"p":"C","r":8,"a":21.6},
      {"p":"C","r":9,"a":0.4},{"p":"C","r":9,"a":2.6},{"p":"C","r":9,"a":3.0},{"p":"C","r":9,"a":3.3},{"p":"C","r":9,"a":3.7},{"p":"C","r":9,"a":4.4},{"p":"C","r":9,"a":8.5},{"p":"C","r":9,"a":8.9},{"p":"C","r":9,"a":9.3},{"p":"C","r":9,"a":9.6},{"p":"C","r":9,"a":10.0},{"p":"C","r":9,"a":10.7},{"p":"C","r":9,"a":11.1},{"p":"C","r":9,"a":11.5},{"p":"C","r":9,"a":12.6},{"p":"C","r":9,"a":13.3},{"p":"C","r":9,"a":14.1},{"p":"C","r":9,"a":14.8},{"p":"C","r":9,"a":15.6},{"p":"C","r":9,"a":17.0},{"p":"C","r":9,"a":18.0},{"p":"C","r":9,"a":19.0},{"p":"C","r":9,"a":21.0},{"p":"C","r":9,"a":23.0},
      {"p":"C","r":10,"a":0.4},{"p":"C","r":10,"a":1.0},{"p":"C","r":10,"a":1.5},{"p":"C","r":10,"a":2.0},{"p":"C","r":10,"a":2.6},{"p":"C","r":10,"a":4.4},{"p":"C","r":10,"a":4.8},{"p":"C","r":10,"a":9.3},{"p":"C","r":10,"a":9.6},{"p":"C","r":10,"a":10.0},{"p":"C","r":10,"a":10.4},{"p":"C","r":10,"a":11.1},{"p":"C","r":10,"a":11.5},{"p":"C","r":10,"a":11.9},{"p":"C","r":10,"a":15.9},{"p":"C","r":10,"a":17.5},{"p":"C","r":10,"a":18.6},{"p":"C","r":10,"a":19.3},{"p":"C","r":10,"a":23.0},
      {"p":"C","r":11,"a":0.4},{"p":"C","r":11,"a":1.0},{"p":"C","r":11,"a":1.5},{"p":"C","r":11,"a":2.2},{"p":"C","r":11,"a":2.6},{"p":"C","r":11,"a":3.3},{"p":"C","r":11,"a":3.7},{"p":"C","r":11,"a":10.4},{"p":"C","r":11,"a":10.7},{"p":"C","r":11,"a":11.1},{"p":"C","r":11,"a":11.5},{"p":"C","r":11,"a":11.9},{"p":"C","r":11,"a":12.2},{"p":"C","r":11,"a":14.5},{"p":"C","r":11,"a":16.3},{"p":"C","r":11,"a":16.7},{"p":"C","r":11,"a":17.0},{"p":"C","r":11,"a":17.8},{"p":"C","r":11,"a":21.4},{"p":"C","r":11,"a":23.0},{"p":"C","r":11,"a":23.7},
      {"p":"C","r":12,"a":1.5},{"p":"C","r":12,"a":2.2},{"p":"C","r":12,"a":9.3},{"p":"C","r":12,"a":9.6},{"p":"C","r":12,"a":10.0},{"p":"C","r":12,"a":10.7},{"p":"C","r":12,"a":11.5},{"p":"C","r":12,"a":11.9},{"p":"C","r":12,"a":12.6},{"p":"C","r":12,"a":15.2},{"p":"C","r":12,"a":15.9},{"p":"C","r":12,"a":16.7},{"p":"C","r":12,"a":17.4},{"p":"C","r":12,"a":18.0},{"p":"C","r":12,"a":20.7},{"p":"C","r":12,"a":22.0},{"p":"C","r":12,"a":22.6},
      {"p":"C","r":13,"a":0.1},{"p":"C","r":13,"a":0.4},{"p":"C","r":13,"a":0.8},{"p":"C","r":13,"a":1.5},{"p":"C","r":13,"a":2.2},{"p":"C","r":13,"a":3.3},{"p":"C","r":13,"a":11.1},{"p":"C","r":13,"a":11.5},{"p":"C","r":13,"a":12.2},{"p":"C","r":13,"a":12.6},{"p":"C","r":13,"a":13.7},{"p":"C","r":13,"a":14.4},{"p":"C","r":13,"a":15.2},{"p":"C","r":13,"a":16.0},{"p":"C","r":13,"a":16.5},{"p":"C","r":13,"a":17.4},{"p":"C","r":13,"a":17.8},{"p":"C","r":13,"a":19.3},{"p":"C","r":13,"a":20.5},{"p":"C","r":13,"a":21.1},{"p":"C","r":13,"a":22.0},{"p":"C","r":13,"a":23.0},
      {"p":"C","r":14,"a":0.1},{"p":"C","r":14,"a":0.4},{"p":"C","r":14,"a":1.0},{"p":"C","r":14,"a":1.9},{"p":"C","r":14,"a":2.6},{"p":"C","r":14,"a":3.7},{"p":"C","r":14,"a":11.5},{"p":"C","r":14,"a":12.2},{"p":"C","r":14,"a":12.6},{"p":"C","r":14,"a":13.3},{"p":"C","r":14,"a":14.1},{"p":"C","r":14,"a":14.8},{"p":"C","r":14,"a":15.6},{"p":"C","r":14,"a":16.3},{"p":"C","r":14,"a":16.7},{"p":"C","r":14,"a":17.0},{"p":"C","r":14,"a":19.0},{"p":"C","r":14,"a":21.0},{"p":"C","r":14,"a":22.2},{"p":"C","r":14,"a":23.2},
      {"p":"C","r":15,"a":0.6},{"p":"C","r":15,"a":2.2},{"p":"C","r":15,"a":2.6},{"p":"C","r":15,"a":3.3},{"p":"C","r":15,"a":3.7},{"p":"C","r":15,"a":10.0},{"p":"C","r":15,"a":10.4},{"p":"C","r":15,"a":11.1},{"p":"C","r":15,"a":13.3},{"p":"C","r":15,"a":13.7},{"p":"C","r":15,"a":15.9},{"p":"C","r":15,"a":17.8},{"p":"C","r":15,"a":19.5},{"p":"C","r":15,"a":21.0},{"p":"C","r":15,"a":22.6},
      {"p":"C","r":16,"a":0.4},{"p":"C","r":16,"a":1.5},{"p":"C","r":16,"a":8.1},{"p":"C","r":16,"a":8.5},{"p":"C","r":16,"a":8.9},{"p":"C","r":16,"a":10.0},{"p":"C","r":16,"a":11.5},{"p":"C","r":16,"a":14.1},{"p":"C","r":16,"a":14.4},{"p":"C","r":16,"a":15.2},{"p":"C","r":16,"a":16.7},{"p":"C","r":16,"a":17.5},{"p":"C","r":16,"a":19.3},{"p":"C","r":16,"a":21.0},{"p":"C","r":16,"a":22.8},
      {"p":"C","r":17,"a":0.4},{"p":"C","r":17,"a":1.5},{"p":"C","r":17,"a":1.9},{"p":"C","r":17,"a":2.2},{"p":"C","r":17,"a":10.4},{"p":"C","r":17,"a":10.7},{"p":"C","r":17,"a":11.1},{"p":"C","r":17,"a":11.5},{"p":"C","r":17,"a":12.6},{"p":"C","r":17,"a":13.3},{"p":"C","r":17,"a":14.4},{"p":"C","r":17,"a":15.2},{"p":"C","r":17,"a":15.9},{"p":"C","r":17,"a":17.4},{"p":"C","r":17,"a":19.3},{"p":"C","r":17,"a":21.0},
      {"p":"C","r":18,"a":0.4},{"p":"C","r":18,"a":0.8},{"p":"C","r":18,"a":1.2},{"p":"C","r":18,"a":1.5},{"p":"C","r":18,"a":1.9},{"p":"C","r":18,"a":2.2},{"p":"C","r":18,"a":8.3},{"p":"C","r":18,"a":10.0},{"p":"C","r":18,"a":11.1},{"p":"C","r":18,"a":14.4},{"p":"C","r":18,"a":15.7},{"p":"C","r":18,"a":17.4},{"p":"C","r":18,"a":18.9},{"p":"C","r":18,"a":19.6},{"p":"C","r":18,"a":21.0},{"p":"C","r":18,"a":22.0},
      {"p":"C","r":19,"a":0.4},{"p":"C","r":19,"a":8.3},{"p":"C","r":19,"a":8.7},{"p":"C","r":19,"a":9.3},{"p":"C","r":19,"a":10.4},{"p":"C","r":19,"a":12.2},{"p":"C","r":19,"a":14.4},{"p":"C","r":19,"a":15.6},{"p":"C","r":19,"a":17.5},{"p":"C","r":19,"a":19.3},{"p":"C","r":19,"a":21.1},{"p":"C","r":19,"a":23.0},
      {"p":"C","r":20,"a":5.6},{"p":"C","r":20,"a":5.9},{"p":"C","r":20,"a":6.3},{"p":"C","r":20,"a":10.0},{"p":"C","r":20,"a":11.1},{"p":"C","r":20,"a":11.9},{"p":"C","r":20,"a":13.8},{"p":"C","r":20,"a":15.6},{"p":"C","r":20,"a":17.5},{"p":"C","r":20,"a":19.3},{"p":"C","r":20,"a":20.4},{"p":"C","r":20,"a":22.0},
      {"p":"C","r":21,"a":0.4},{"p":"C","r":21,"a":0.8},{"p":"C","r":21,"a":1.2},{"p":"C","r":21,"a":1.6},{"p":"C","r":21,"a":2.2},{"p":"C","r":21,"a":3.3},{"p":"C","r":21,"a":4.4},{"p":"C","r":21,"a":5.6},{"p":"C","r":21,"a":6.3},{"p":"C","r":21,"a":6.7},{"p":"C","r":21,"a":11.1},{"p":"C","r":21,"a":12.2},{"p":"C","r":21,"a":13.5},{"p":"C","r":21,"a":15.4},{"p":"C","r":21,"a":17.3},{"p":"C","r":21,"a":18.0},{"p":"C","r":21,"a":19.9},{"p":"C","r":21,"a":21.5},{"p":"C","r":21,"a":23.0},
      {"p":"C","r":22,"a":0.4},{"p":"C","r":22,"a":1.1},{"p":"C","r":22,"a":2.6},{"p":"C","r":22,"a":7.8},{"p":"C","r":22,"a":12.2},{"p":"C","r":22,"a":13.7},{"p":"C","r":22,"a":15.6},{"p":"C","r":22,"a":17.5},{"p":"C","r":22,"a":19.3},{"p":"C","r":22,"a":21.1},
      {"p":"C","r":23,"a":0.4},{"p":"C","r":23,"a":1.5},{"p":"C","r":23,"a":3.0},{"p":"C","r":23,"a":3.7},{"p":"C","r":23,"a":4.1},{"p":"C","r":23,"a":7.8},{"p":"C","r":23,"a":8.5},{"p":"C","r":23,"a":8.9},{"p":"C","r":23,"a":10.4},{"p":"C","r":23,"a":12.2},{"p":"C","r":23,"a":15.2},{"p":"C","r":23,"a":17.4},{"p":"C","r":23,"a":18.9},{"p":"C","r":23,"a":19.6},{"p":"C","r":23,"a":20.5},
      {"p":"C","r":24,"a":3.7},{"p":"C","r":24,"a":4.8},{"p":"C","r":24,"a":5.9},{"p":"C","r":24,"a":6.7},{"p":"C","r":24,"a":7.4},

      {"p":"D","r":1,"a":5.5},{"p":"D","r":1,"a":5.9},{"p":"D","r":1,"a":6.3},{"p":"D","r":1,"a":6.7},{"p":"D","r":1,"a":7.0},{"p":"D","r":1,"a":7.4},{"p":"D","r":1,"a":7.8},{"p":"D","r":1,"a":8.5},{"p":"D","r":1,"a":8.9},{"p":"D","r":1,"a":9.3},{"p":"D","r":1,"a":9.6},{"p":"D","r":1,"a":10.0},{"p":"D","r":1,"a":10.4},{"p":"D","r":1,"a":10.7},{"p":"D","r":1,"a":11.1},{"p":"D","r":1,"a":12.2},{"p":"D","r":1,"a":13.0},{"p":"D","r":1,"a":13.7},{"p":"D","r":1,"a":18.1},{"p":"D","r":1,"a":19.6},{"p":"D","r":1,"a":20.0},{"p":"D","r":1,"a":22.2},
      {"p":"D","r":2,"a":2.6},{"p":"D","r":2,"a":10.0},{"p":"D","r":2,"a":10.4},{"p":"D","r":2,"a":10.7},{"p":"D","r":2,"a":11.1},{"p":"D","r":2,"a":11.5},{"p":"D","r":2,"a":12.6},{"p":"D","r":2,"a":13.0},{"p":"D","r":2,"a":13.7},{"p":"D","r":2,"a":15.3},{"p":"D","r":2,"a":16.7},{"p":"D","r":2,"a":17.5},{"p":"D","r":2,"a":19.3},
      {"p":"D","r":3,"a":4.8},{"p":"D","r":3,"a":5.2},{"p":"D","r":3,"a":5.6},{"p":"D","r":3,"a":6.0},{"p":"D","r":3,"a":7.0},{"p":"D","r":3,"a":11.5},{"p":"D","r":3,"a":11.9},{"p":"D","r":3,"a":12.2},{"p":"D","r":3,"a":12.6},{"p":"D","r":3,"a":13.7},{"p":"D","r":3,"a":15.9},{"p":"D","r":3,"a":16.7},{"p":"D","r":3,"a":17.0},{"p":"D","r":3,"a":19.6},
      {"p":"D","r":4,"a":2.4},{"p":"D","r":4,"a":3.3},{"p":"D","r":4,"a":4.8},{"p":"D","r":4,"a":9.3},{"p":"D","r":4,"a":9.6},{"p":"D","r":4,"a":10.0},{"p":"D","r":4,"a":10.4},{"p":"D","r":4,"a":10.7},{"p":"D","r":4,"a":11.1},{"p":"D","r":4,"a":11.5},{"p":"D","r":4,"a":14.6},{"p":"D","r":4,"a":16.7},{"p":"D","r":4,"a":20.5},
      {"p":"D","r":5,"a":10.4},{"p":"D","r":5,"a":10.7},{"p":"D","r":5,"a":11.1},{"p":"D","r":5,"a":11.5},{"p":"D","r":5,"a":11.9},{"p":"D","r":5,"a":12.2},{"p":"D","r":5,"a":12.6},{"p":"D","r":5,"a":13.0},{"p":"D","r":5,"a":15.2},{"p":"D","r":5,"a":15.6},{"p":"D","r":5,"a":20.0},
      {"p":"D","r":6,"a":2.2},{"p":"D","r":6,"a":2.6},{"p":"D","r":6,"a":3.0},{"p":"D","r":6,"a":11.5},{"p":"D","r":6,"a":12.2},{"p":"D","r":6,"a":13.7},{"p":"D","r":6,"a":14.1},{"p":"D","r":6,"a":14.8},{"p":"D","r":6,"a":16.7},{"p":"D","r":6,"a":17.4},{"p":"D","r":6,"a":17.8},
      {"p":"D","r":7,"a":10.0},{"p":"D","r":7,"a":10.4},{"p":"D","r":7,"a":11.1},{"p":"D","r":7,"a":11.9},{"p":"D","r":7,"a":13.7},{"p":"D","r":7,"a":15.2},{"p":"D","r":7,"a":17.0},{"p":"D","r":7,"a":22.5},
      {"p":"D","r":8,"a":0.6},{"p":"D","r":8,"a":2.6},{"p":"D","r":8,"a":3.0},{"p":"D","r":8,"a":9.6},{"p":"D","r":8,"a":10.4},{"p":"D","r":8,"a":11.1},{"p":"D","r":8,"a":11.9},{"p":"D","r":8,"a":13.0},{"p":"D","r":8,"a":15.2},{"p":"D","r":8,"a":17.9},{"p":"D","r":8,"a":19.6},{"p":"D","r":8,"a":20.8},
      {"p":"D","r":9,"a":1.9},{"p":"D","r":9,"a":2.2},{"p":"D","r":9,"a":4.8},{"p":"D","r":9,"a":9.6},{"p":"D","r":9,"a":10.0},{"p":"D","r":9,"a":10.7},{"p":"D","r":9,"a":11.5},{"p":"D","r":9,"a":12.6},{"p":"D","r":9,"a":13.3},{"p":"D","r":9,"a":22.2},{"p":"D","r":9,"a":23.9},
      {"p":"D","r":10,"a":0.2},{"p":"D","r":10,"a":0.6},{"p":"D","r":10,"a":1.0},{"p":"D","r":10,"a":3.3},{"p":"D","r":10,"a":3.7},{"p":"D","r":10,"a":4.4},{"p":"D","r":10,"a":8.9},{"p":"D","r":10,"a":9.3},{"p":"D","r":10,"a":10.4},{"p":"D","r":10,"a":13.3},{"p":"D","r":10,"a":16.3},{"p":"D","r":10,"a":17.0},{"p":"D","r":10,"a":21.3},{"p":"D","r":10,"a":22.0},
      {"p":"D","r":11,"a":0.2},{"p":"D","r":11,"a":1.5},{"p":"D","r":11,"a":1.9},{"p":"D","r":11,"a":2.6},{"p":"D","r":11,"a":8.9},{"p":"D","r":11,"a":9.6},{"p":"D","r":11,"a":10.4},{"p":"D","r":11,"a":15.6},{"p":"D","r":11,"a":16.3},{"p":"D","r":11,"a":17.0},{"p":"D","r":11,"a":17.8},{"p":"D","r":11,"a":18.5},{"p":"D","r":11,"a":19.3},{"p":"D","r":11,"a":20.4},{"p":"D","r":11,"a":21.5},{"p":"D","r":11,"a":22.2},
      {"p":"D","r":12,"a":0.7},{"p":"D","r":12,"a":5.9},{"p":"D","r":12,"a":6.3},{"p":"D","r":12,"a":7.0},{"p":"D","r":12,"a":7.8},{"p":"D","r":12,"a":10.0},{"p":"D","r":12,"a":11.1},{"p":"D","r":12,"a":13.0},{"p":"D","r":12,"a":14.1},{"p":"D","r":12,"a":17.4},{"p":"D","r":12,"a":18.9},{"p":"D","r":12,"a":19.2},{"p":"D","r":12,"a":21.0},{"p":"D","r":12,"a":23.0},
      {"p":"D","r":13,"a":4.1},{"p":"D","r":13,"a":4.8},{"p":"D","r":13,"a":7.0},{"p":"D","r":13,"a":10.7},{"p":"D","r":13,"a":13.1},{"p":"D","r":13,"a":14.1},{"p":"D","r":13,"a":17.4},{"p":"D","r":13,"a":20.0},{"p":"D","r":13,"a":21.1},
      {"p":"D","r":14,"a":4.1},{"p":"D","r":14,"a":4.4},{"p":"D","r":14,"a":9.6},{"p":"D","r":14,"a":10.0},{"p":"D","r":14,"a":10.4},{"p":"D","r":14,"a":10.7},{"p":"D","r":14,"a":11.5},{"p":"D","r":14,"a":15.2},{"p":"D","r":14,"a":17.4},{"p":"D","r":14,"a":19.0},
      {"p":"D","r":15,"a":0.2},{"p":"D","r":15,"a":0.6},{"p":"D","r":15,"a":1.0},{"p":"D","r":15,"a":1.5},{"p":"D","r":15,"a":2.2},{"p":"D","r":15,"a":11.1},{"p":"D","r":15,"a":13.7},{"p":"D","r":15,"a":15.9},{"p":"D","r":15,"a":17.4},{"p":"D","r":15,"a":18.1},{"p":"D","r":15,"a":18.9},{"p":"D","r":15,"a":20.0},
      {"p":"D","r":16,"a":0.2},{"p":"D","r":16,"a":0.6},{"p":"D","r":16,"a":3.0},{"p":"D","r":16,"a":5.6},{"p":"D","r":16,"a":8.1},{"p":"D","r":16,"a":11.1},{"p":"D","r":16,"a":13.7},{"p":"D","r":16,"a":14.4},{"p":"D","r":16,"a":15.2},{"p":"D","r":16,"a":16.0},{"p":"D","r":16,"a":16.7},{"p":"D","r":16,"a":17.4},{"p":"D","r":16,"a":22.6},{"p":"D","r":16,"a":23.3},
      {"p":"D","r":17,"a":2.0},{"p":"D","r":17,"a":2.2},{"p":"D","r":17,"a":8.1},{"p":"D","r":17,"a":10.4},{"p":"D","r":17,"a":12.2},{"p":"D","r":17,"a":14.4},{"p":"D","r":17,"a":15.0},{"p":"D","r":17,"a":15.6},{"p":"D","r":17,"a":16.3},{"p":"D","r":17,"a":16.7},{"p":"D","r":17,"a":23.5},
      {"p":"D","r":18,"a":0.4},{"p":"D","r":18,"a":5.9},{"p":"D","r":18,"a":7.0},{"p":"D","r":18,"a":11.1},{"p":"D","r":18,"a":11.5},{"p":"D","r":18,"a":13.0},{"p":"D","r":18,"a":14.1},{"p":"D","r":18,"a":15.2},{"p":"D","r":18,"a":20.4},{"p":"D","r":18,"a":21.1},{"p":"D","r":18,"a":21.9},{"p":"D","r":18,"a":22.6},{"p":"D","r":18,"a":23.3},
      {"p":"D","r":19,"a":0.7},{"p":"D","r":19,"a":3.7},{"p":"D","r":19,"a":7.4},{"p":"D","r":19,"a":10.7},{"p":"D","r":19,"a":12.6},{"p":"D","r":19,"a":13.7},{"p":"D","r":19,"a":14.4},{"p":"D","r":19,"a":14.8},{"p":"D","r":19,"a":20.4},{"p":"D","r":19,"a":21.1},{"p":"D","r":19,"a":21.9},{"p":"D","r":19,"a":22.6},{"p":"D","r":19,"a":23.3},
      {"p":"D","r":20,"a":3.0},{"p":"D","r":20,"a":4.8},{"p":"D","r":20,"a":8.9},{"p":"D","r":20,"a":10.7},{"p":"D","r":20,"a":11.5},{"p":"D","r":20,"a":12.2},{"p":"D","r":20,"a":13.0},{"p":"D","r":20,"a":13.7},{"p":"D","r":20,"a":14.4},{"p":"D","r":20,"a":21.5},{"p":"D","r":20,"a":22.2},{"p":"D","r":20,"a":22.8},
      {"p":"D","r":21,"a":3.0},{"p":"D","r":21,"a":4.8},{"p":"D","r":21,"a":5.4},{"p":"D","r":21,"a":5.7},{"p":"D","r":21,"a":8.3},{"p":"D","r":21,"a":8.9},{"p":"D","r":21,"a":10.9},{"p":"D","r":21,"a":11.3},{"p":"D","r":21,"a":12.6},{"p":"D","r":21,"a":13.3},{"p":"D","r":21,"a":13.9},{"p":"D","r":21,"a":21.5},{"p":"D","r":21,"a":22.2},{"p":"D","r":21,"a":22.8},
      {"p":"D","r":22,"a":2.7},{"p":"D","r":22,"a":5.4},{"p":"D","r":22,"a":7.0},{"p":"D","r":22,"a":7.8},{"p":"D","r":22,"a":9.3},{"p":"D","r":22,"a":10.7},{"p":"D","r":22,"a":11.5},{"p":"D","r":22,"a":12.2},{"p":"D","r":22,"a":12.8},{"p":"D","r":22,"a":19.9},{"p":"D","r":22,"a":20.7},{"p":"D","r":22,"a":21.9},
      {"p":"D","r":23,"a":2.3},{"p":"D","r":23,"a":2.6},{"p":"D","r":23,"a":2.9},{"p":"D","r":23,"a":4.9},{"p":"D","r":23,"a":6.3},{"p":"D","r":23,"a":7.4},{"p":"D","r":23,"a":7.8},{"p":"D","r":23,"a":9.1},{"p":"D","r":23,"a":10.4},{"p":"D","r":23,"a":11.4},{"p":"D","r":23,"a":12.6},{"p":"D","r":23,"a":18.9},{"p":"D","r":23,"a":19.6},{"p":"D","r":23,"a":21.5},{"p":"D","r":23,"a":22.6},{"p":"D","r":23,"a":23.5},
      {"p":"D","r":24,"a":0.3},{"p":"D","r":24,"a":0.8},{"p":"D","r":24,"a":1.3},{"p":"D","r":24,"a":2.1},{"p":"D","r":24,"a":2.5},{"p":"D","r":24,"a":7.3}
    ],
    "hrs": [{"a": 0}, {"a": 24}, {"a": 48}]
  },
  "layer": [
    {
      "layer": [
        {"data": {"values": [{}]}, "mark": {"type": "rect", "fill": "white", "stroke": "#111", "strokeWidth": 1},
         "encoding": {"x": {"datum": 0, "type": "quantitative", "scale": {"domain": [-9.0125, 106.877], "nice": false, "zero": false}, "axis": null}, "x2": {"datum": 48},
                      "y": {"datum": -4.67, "type": "quantitative", "scale": {"domain": [-6.02, 70.147], "reverse": true, "nice": false, "zero": false}, "axis": null}, "y2": {"datum": -2.09}}},
        {"data": {"name": "ld"}, "transform": [{"filter": "datum.p === 'A'"}], "mark": {"type": "rect", "fill": "#111"},
         "encoding": {"x": {"field": "a", "type": "quantitative", "scale": {"domain": [-9.0125, 106.877], "nice": false, "zero": false}, "axis": null}, "x2": {"field": "b"},
                      "y": {"datum": -4.67, "type": "quantitative", "scale": {"domain": [-6.02, 70.147], "reverse": true, "nice": false, "zero": false}, "axis": null}, "y2": {"datum": -2.09}}},
        {"data": {"name": "base"}, "transform": [{"filter": "datum.p === 'A'"}], "mark": {"type": "rule", "color": "#333", "strokeWidth": 0.7, "yOffset": 3.4},
         "encoding": {"x": {"field": "a", "type": "quantitative", "scale": {"domain": [-9.0125, 106.877], "nice": false, "zero": false}, "axis": null}, "x2": {"field": "b"},
                      "y": {"field": "r", "type": "quantitative", "scale": {"domain": [-6.02, 70.147], "reverse": true, "nice": false, "zero": false}, "axis": null}}},
        {"data": {"name": "bl"}, "transform": [{"filter": "datum.p === 'A'"}], "mark": {"type": "bar", "orient": "horizontal", "size": 6.5, "color": "#111"},
         "encoding": {"x": {"field": "a", "type": "quantitative", "scale": {"domain": [-9.0125, 106.877], "nice": false, "zero": false}, "axis": null}, "x2": {"field": "b"},
                      "y": {"field": "r", "type": "quantitative", "scale": {"domain": [-6.02, 70.147], "reverse": true, "nice": false, "zero": false}, "axis": null}}},
        {"data": {"name": "tk"}, "transform": [{"filter": "datum.p === 'A'"}], "mark": {"type": "tick", "orient": "vertical", "size": 6.5, "thickness": 1.5, "color": "#111"},
         "encoding": {"x": {"field": "a", "type": "quantitative", "scale": {"domain": [-9.0125, 106.877], "nice": false, "zero": false}, "axis": null},
                      "y": {"field": "r", "type": "quantitative", "scale": {"domain": [-6.02, 70.147], "reverse": true, "nice": false, "zero": false}, "axis": null}}},
        {"data": {"values": [{}]}, "mark": {"type": "text", "fontSize": 26, "align": "center", "baseline": "middle"},
         "encoding": {"x": {"datum": -4.21, "type": "quantitative", "scale": {"domain": [-9.0125, 106.877], "nice": false, "zero": false}, "axis": null},
                      "y": {"datum": -2.21, "type": "quantitative", "scale": {"domain": [-6.02, 70.147], "reverse": true, "nice": false, "zero": false}, "axis": null}, "text": {"value": "A"}}},
        {"data": {"values": [{"r": 1, "s": "Days 1 -"}, {"r": 9, "s": "X-"}, {"r": 29, "s": "29-"}]}, "mark": {"type": "text", "fontSize": 21, "align": "right", "baseline": "middle", "dy": 1},
         "encoding": {"x": {"datum": -0.4, "type": "quantitative", "scale": {"domain": [-9.0125, 106.877], "nice": false, "zero": false}, "axis": null},
                      "y": {"field": "r", "type": "quantitative", "scale": {"domain": [-6.02, 70.147], "reverse": true, "nice": false, "zero": false}, "axis": null}, "text": {"field": "s"}}}
      ]
    },
    {
      "layer": [
        {"data": {"name": "base"}, "transform": [{"filter": "datum.p === 'A'"}], "mark": {"type": "rule", "color": "#333", "strokeWidth": 0.7, "yOffset": 3.4},
         "encoding": {"x": {"field": "a", "type": "quantitative", "scale": {"domain": [-33.0125, 82.877], "nice": false, "zero": false}, "axis": null}, "x2": {"field": "b"},
                      "y": {"field": "r", "type": "quantitative", "scale": {"domain": [-5.02, 71.147], "reverse": true, "nice": false, "zero": false}, "axis": null}}},
        {"data": {"name": "bl"}, "transform": [{"filter": "datum.p === 'A'"}], "mark": {"type": "bar", "orient": "horizontal", "size": 6.5, "color": "#111"},
         "encoding": {"x": {"field": "a", "type": "quantitative", "scale": {"domain": [-33.0125, 82.877], "nice": false, "zero": false}, "axis": null}, "x2": {"field": "b"},
                      "y": {"field": "r", "type": "quantitative", "scale": {"domain": [-5.02, 71.147], "reverse": true, "nice": false, "zero": false}, "axis": null}}},
        {"data": {"name": "tk"}, "transform": [{"filter": "datum.p === 'A'"}], "mark": {"type": "tick", "orient": "vertical", "size": 6.5, "thickness": 1.5, "color": "#111"},
         "encoding": {"x": {"field": "a", "type": "quantitative", "scale": {"domain": [-33.0125, 82.877], "nice": false, "zero": false}, "axis": null},
                      "y": {"field": "r", "type": "quantitative", "scale": {"domain": [-5.02, 71.147], "reverse": true, "nice": false, "zero": false}, "axis": null}}}
      ]
    },
    {
      "layer": [
        {"data": {"name": "base"}, "transform": [{"filter": "datum.p === 'B'"}], "mark": {"type": "rule", "color": "#333", "strokeWidth": 0.7, "yOffset": 3.4},
         "encoding": {"x": {"field": "a", "type": "quantitative", "scale": {"domain": [-9.0125, 106.877], "nice": false, "zero": false}, "axis": null}, "x2": {"field": "b"},
                      "y": {"field": "r", "type": "quantitative", "scale": {"domain": [-38.066, 37.821], "reverse": true, "nice": false, "zero": false}, "axis": null}}},
        {"data": {"name": "bl"}, "transform": [{"filter": "datum.p === 'B'"}], "mark": {"type": "bar", "orient": "horizontal", "size": 6.5, "color": "#111"},
         "encoding": {"x": {"field": "a", "type": "quantitative", "scale": {"domain": [-9.0125, 106.877], "nice": false, "zero": false}, "axis": null}, "x2": {"field": "b"},
                      "y": {"field": "r", "type": "quantitative", "scale": {"domain": [-38.066, 37.821], "reverse": true, "nice": false, "zero": false}, "axis": null}}},
        {"data": {"name": "tk"}, "transform": [{"filter": "datum.p === 'B'"}], "mark": {"type": "tick", "orient": "vertical", "size": 6.5, "thickness": 1.5, "color": "#111"},
         "encoding": {"x": {"field": "a", "type": "quantitative", "scale": {"domain": [-9.0125, 106.877], "nice": false, "zero": false}, "axis": null},
                      "y": {"field": "r", "type": "quantitative", "scale": {"domain": [-38.066, 37.821], "reverse": true, "nice": false, "zero": false}, "axis": null}}},
        {"data": {"name": "hrs"}, "mark": {"type": "rule", "color": "#111", "strokeWidth": 1.2},
         "encoding": {"x": {"field": "a", "type": "quantitative", "scale": {"domain": [-9.0125, 106.877], "nice": false, "zero": false}, "axis": null},
                      "y": {"datum": -2.2, "type": "quantitative", "scale": {"domain": [-38.066, 37.821], "reverse": true, "nice": false, "zero": false}, "axis": null}, "y2": {"datum": -1.1}}},
        {"data": {"name": "hrs"}, "mark": {"type": "rule", "color": "#111", "strokeWidth": 1.2},
         "encoding": {"x": {"field": "a", "type": "quantitative", "scale": {"domain": [-9.0125, 106.877], "nice": false, "zero": false}, "axis": null},
                      "y": {"datum": 29.87, "type": "quantitative", "scale": {"domain": [-38.066, 37.821], "reverse": true, "nice": false, "zero": false}, "axis": null}, "y2": {"datum": 31.09}}},
        {"data": {"name": "hrs"}, "mark": {"type": "text", "fontSize": 21, "align": "center", "baseline": "middle"},
         "encoding": {"x": {"field": "a", "type": "quantitative", "scale": {"domain": [-9.0125, 106.877], "nice": false, "zero": false}, "axis": null},
                      "y": {"datum": 33.1, "type": "quantitative", "scale": {"domain": [-38.066, 37.821], "reverse": true, "nice": false, "zero": false}, "axis": null}, "text": {"value": "12"}}},
        {"data": {"values": [{}]}, "mark": {"type": "text", "fontSize": 18, "align": "center", "baseline": "middle"},
         "encoding": {"x": {"datum": 24.8, "type": "quantitative", "scale": {"domain": [-9.0125, 106.877], "nice": false, "zero": false}, "axis": null},
                      "y": {"datum": 36.5, "type": "quantitative", "scale": {"domain": [-38.066, 37.821], "reverse": true, "nice": false, "zero": false}, "axis": null}, "text": {"value": "Time of day\u00a0 (hours)"}}},
        {"data": {"values": [{}]}, "mark": {"type": "text", "fontSize": 26, "align": "center", "baseline": "middle"},
         "encoding": {"x": {"datum": -4.8, "type": "quantitative", "scale": {"domain": [-9.0125, 106.877], "nice": false, "zero": false}, "axis": null},
                      "y": {"datum": 1.4, "type": "quantitative", "scale": {"domain": [-38.066, 37.821], "reverse": true, "nice": false, "zero": false}, "axis": null}, "text": {"value": "B"}}},
        {"data": {"values": [{"r": 1, "s": "1 -"}, {"r": 9, "s": "X-"}, {"r": 29, "s": "29-"}]}, "mark": {"type": "text", "fontSize": 21, "align": "right", "baseline": "middle", "dy": 1},
         "encoding": {"x": {"datum": -0.4, "type": "quantitative", "scale": {"domain": [-9.0125, 106.877], "nice": false, "zero": false}, "axis": null},
                      "y": {"field": "r", "type": "quantitative", "scale": {"domain": [-38.066, 37.821], "reverse": true, "nice": false, "zero": false}, "axis": null}, "text": {"field": "s"}}}
      ]
    },
    {
      "layer": [
        {"data": {"name": "base"}, "transform": [{"filter": "datum.p === 'B'"}], "mark": {"type": "rule", "color": "#333", "strokeWidth": 0.7, "yOffset": 3.4},
         "encoding": {"x": {"field": "a", "type": "quantitative", "scale": {"domain": [-33.0125, 82.877], "nice": false, "zero": false}, "axis": null}, "x2": {"field": "b"},
                      "y": {"field": "r", "type": "quantitative", "scale": {"domain": [-37.066, 38.821], "reverse": true, "nice": false, "zero": false}, "axis": null}}},
        {"data": {"name": "bl"}, "transform": [{"filter": "datum.p === 'B'"}], "mark": {"type": "bar", "orient": "horizontal", "size": 6.5, "color": "#111"},
         "encoding": {"x": {"field": "a", "type": "quantitative", "scale": {"domain": [-33.0125, 82.877], "nice": false, "zero": false}, "axis": null}, "x2": {"field": "b"},
                      "y": {"field": "r", "type": "quantitative", "scale": {"domain": [-37.066, 38.821], "reverse": true, "nice": false, "zero": false}, "axis": null}}},
        {"data": {"name": "tk"}, "transform": [{"filter": "datum.p === 'B'"}], "mark": {"type": "tick", "orient": "vertical", "size": 6.5, "thickness": 1.5, "color": "#111"},
         "encoding": {"x": {"field": "a", "type": "quantitative", "scale": {"domain": [-33.0125, 82.877], "nice": false, "zero": false}, "axis": null},
                      "y": {"field": "r", "type": "quantitative", "scale": {"domain": [-37.066, 38.821], "reverse": true, "nice": false, "zero": false}, "axis": null}}}
      ]
    },
    {
      "layer": [
        {"data": {"values": [{}]}, "mark": {"type": "rect", "fill": "white", "stroke": "#111", "strokeWidth": 1},
         "encoding": {"x": {"datum": 0, "type": "quantitative", "scale": {"domain": [-66.321, 49.569], "nice": false, "zero": false}, "axis": null}, "x2": {"datum": 48},
                      "y": {"datum": -8.41, "type": "quantitative", "scale": {"domain": [-9.512, 66.098], "reverse": true, "nice": false, "zero": false}, "axis": null}, "y2": {"datum": -5.85}}},
        {"data": {"name": "ld"}, "transform": [{"filter": "datum.p === 'C'"}], "mark": {"type": "rect", "fill": "#111"},
         "encoding": {"x": {"field": "a", "type": "quantitative", "scale": {"domain": [-66.321, 49.569], "nice": false, "zero": false}, "axis": null}, "x2": {"field": "b"},
                      "y": {"datum": -8.41, "type": "quantitative", "scale": {"domain": [-9.512, 66.098], "reverse": true, "nice": false, "zero": false}, "axis": null}, "y2": {"datum": -5.85}}},
        {"data": {"values": [{}]}, "mark": {"type": "rect", "fill": "#111", "stroke": "#111", "strokeWidth": 1},
         "encoding": {"x": {"datum": 0, "type": "quantitative", "scale": {"domain": [-66.321, 49.569], "nice": false, "zero": false}, "axis": null}, "x2": {"datum": 48},
                      "y": {"datum": -4.76, "type": "quantitative", "scale": {"domain": [-9.512, 66.098], "reverse": true, "nice": false, "zero": false}, "axis": null}, "y2": {"datum": -2.07}}},
        {"data": {"name": "base"}, "transform": [{"filter": "datum.p === 'C'"}], "mark": {"type": "rule", "color": "#333", "strokeWidth": 0.7, "yOffset": 3.4},
         "encoding": {"x": {"field": "a", "type": "quantitative", "scale": {"domain": [-66.321, 49.569], "nice": false, "zero": false}, "axis": null}, "x2": {"field": "b"},
                      "y": {"field": "r", "type": "quantitative", "scale": {"domain": [-9.512, 66.098], "reverse": true, "nice": false, "zero": false}, "axis": null}}},
        {"data": {"name": "bl"}, "transform": [{"filter": "datum.p === 'C'"}], "mark": {"type": "bar", "orient": "horizontal", "size": 6.5, "color": "#111"},
         "encoding": {"x": {"field": "a", "type": "quantitative", "scale": {"domain": [-66.321, 49.569], "nice": false, "zero": false}, "axis": null}, "x2": {"field": "b"},
                      "y": {"field": "r", "type": "quantitative", "scale": {"domain": [-9.512, 66.098], "reverse": true, "nice": false, "zero": false}, "axis": null}}},
        {"data": {"name": "tk"}, "transform": [{"filter": "datum.p === 'C'"}], "mark": {"type": "tick", "orient": "vertical", "size": 6.5, "thickness": 1.5, "color": "#111"},
         "encoding": {"x": {"field": "a", "type": "quantitative", "scale": {"domain": [-66.321, 49.569], "nice": false, "zero": false}, "axis": null},
                      "y": {"field": "r", "type": "quantitative", "scale": {"domain": [-9.512, 66.098], "reverse": true, "nice": false, "zero": false}, "axis": null}}},
        {"data": {"values": [{}]}, "mark": {"type": "text", "fontSize": 26, "align": "center", "baseline": "middle"},
         "encoding": {"x": {"datum": -4.2, "type": "quantitative", "scale": {"domain": [-66.321, 49.569], "nice": false, "zero": false}, "axis": null},
                      "y": {"datum": -2.9, "type": "quantitative", "scale": {"domain": [-9.512, 66.098], "reverse": true, "nice": false, "zero": false}, "axis": null}, "text": {"value": "C"}}},
        {"data": {"values": [{"r": 1, "s": "Days 1 -"}, {"r": 10, "s": "X-"}, {"r": 24, "s": "24-"}]}, "mark": {"type": "text", "fontSize": 21, "align": "right", "baseline": "middle", "dy": 1},
         "encoding": {"x": {"datum": -0.2, "type": "quantitative", "scale": {"domain": [-66.321, 49.569], "nice": false, "zero": false}, "axis": null},
                      "y": {"field": "r", "type": "quantitative", "scale": {"domain": [-9.512, 66.098], "reverse": true, "nice": false, "zero": false}, "axis": null}, "text": {"field": "s"}}}
      ]
    },
    {
      "layer": [
        {"data": {"name": "base"}, "transform": [{"filter": "datum.p === 'C'"}], "mark": {"type": "rule", "color": "#333", "strokeWidth": 0.7, "yOffset": 3.4},
         "encoding": {"x": {"field": "a", "type": "quantitative", "scale": {"domain": [-90.321, 25.569], "nice": false, "zero": false}, "axis": null}, "x2": {"field": "b"},
                      "y": {"field": "r", "type": "quantitative", "scale": {"domain": [-8.512, 67.098], "reverse": true, "nice": false, "zero": false}, "axis": null}}},
        {"data": {"name": "bl"}, "transform": [{"filter": "datum.p === 'C'"}], "mark": {"type": "bar", "orient": "horizontal", "size": 6.5, "color": "#111"},
         "encoding": {"x": {"field": "a", "type": "quantitative", "scale": {"domain": [-90.321, 25.569], "nice": false, "zero": false}, "axis": null}, "x2": {"field": "b"},
                      "y": {"field": "r", "type": "quantitative", "scale": {"domain": [-8.512, 67.098], "reverse": true, "nice": false, "zero": false}, "axis": null}}},
        {"data": {"name": "tk"}, "transform": [{"filter": "datum.p === 'C'"}], "mark": {"type": "tick", "orient": "vertical", "size": 6.5, "thickness": 1.5, "color": "#111"},
         "encoding": {"x": {"field": "a", "type": "quantitative", "scale": {"domain": [-90.321, 25.569], "nice": false, "zero": false}, "axis": null},
                      "y": {"field": "r", "type": "quantitative", "scale": {"domain": [-8.512, 67.098], "reverse": true, "nice": false, "zero": false}, "axis": null}}}
      ]
    },
    {
      "layer": [
        {"data": {"name": "base"}, "transform": [{"filter": "datum.p === 'D'"}], "mark": {"type": "rule", "color": "#333", "strokeWidth": 0.7, "yOffset": 3.4},
         "encoding": {"x": {"field": "a", "type": "quantitative", "scale": {"domain": [-66.321, 49.569], "nice": false, "zero": false}, "axis": null}, "x2": {"field": "b"},
                      "y": {"field": "r", "type": "quantitative", "scale": {"domain": [-36.836, 39.802], "reverse": true, "nice": false, "zero": false}, "axis": null}}},
        {"data": {"name": "bl"}, "transform": [{"filter": "datum.p === 'D'"}], "mark": {"type": "bar", "orient": "horizontal", "size": 6.5, "color": "#111"},
         "encoding": {"x": {"field": "a", "type": "quantitative", "scale": {"domain": [-66.321, 49.569], "nice": false, "zero": false}, "axis": null}, "x2": {"field": "b"},
                      "y": {"field": "r", "type": "quantitative", "scale": {"domain": [-36.836, 39.802], "reverse": true, "nice": false, "zero": false}, "axis": null}}},
        {"data": {"name": "tk"}, "transform": [{"filter": "datum.p === 'D'"}], "mark": {"type": "tick", "orient": "vertical", "size": 6.5, "thickness": 1.5, "color": "#111"},
         "encoding": {"x": {"field": "a", "type": "quantitative", "scale": {"domain": [-66.321, 49.569], "nice": false, "zero": false}, "axis": null},
                      "y": {"field": "r", "type": "quantitative", "scale": {"domain": [-36.836, 39.802], "reverse": true, "nice": false, "zero": false}, "axis": null}}},
        {"data": {"name": "hrs"}, "mark": {"type": "rule", "color": "#111", "strokeWidth": 1.2},
         "encoding": {"x": {"field": "a", "type": "quantitative", "scale": {"domain": [-66.321, 49.569], "nice": false, "zero": false}, "axis": null},
                      "y": {"datum": -1.85, "type": "quantitative", "scale": {"domain": [-36.836, 39.802], "reverse": true, "nice": false, "zero": false}, "axis": null}, "y2": {"datum": -0.62}}},
        {"data": {"name": "hrs"}, "mark": {"type": "rule", "color": "#111", "strokeWidth": 1.2},
         "encoding": {"x": {"field": "a", "type": "quantitative", "scale": {"domain": [-66.321, 49.569], "nice": false, "zero": false}, "axis": null},
                      "y": {"datum": 25.2, "type": "quantitative", "scale": {"domain": [-36.836, 39.802], "reverse": true, "nice": false, "zero": false}, "axis": null}, "y2": {"datum": 26.2}}},
        {"data": {"name": "hrs"}, "mark": {"type": "text", "fontSize": 21, "align": "center", "baseline": "middle"},
         "encoding": {"x": {"field": "a", "type": "quantitative", "scale": {"domain": [-66.321, 49.569], "nice": false, "zero": false}, "axis": null},
                      "y": {"datum": 28.5, "type": "quantitative", "scale": {"domain": [-36.836, 39.802], "reverse": true, "nice": false, "zero": false}, "axis": null}, "text": {"value": "12"}}},
        {"data": {"values": [{}]}, "mark": {"type": "text", "fontSize": 18, "align": "center", "baseline": "middle"},
         "encoding": {"x": {"datum": 25.5, "type": "quantitative", "scale": {"domain": [-66.321, 49.569], "nice": false, "zero": false}, "axis": null},
                      "y": {"datum": 32.8, "type": "quantitative", "scale": {"domain": [-36.836, 39.802], "reverse": true, "nice": false, "zero": false}, "axis": null}, "text": {"value": "Time of day\u00a0 (hours)"}}},
        {"data": {"values": [{}]}, "mark": {"type": "text", "fontSize": 26, "align": "center", "baseline": "middle"},
         "encoding": {"x": {"datum": -4.8, "type": "quantitative", "scale": {"domain": [-66.321, 49.569], "nice": false, "zero": false}, "axis": null},
                      "y": {"datum": 1.3, "type": "quantitative", "scale": {"domain": [-36.836, 39.802], "reverse": true, "nice": false, "zero": false}, "axis": null}, "text": {"value": "D"}}},
        {"data": {"values": [{"r": 1, "s": "1 -"}, {"r": 9, "s": "X-"}, {"r": 24, "s": "24-"}]}, "mark": {"type": "text", "fontSize": 21, "align": "right", "baseline": "middle", "dy": 1},
         "encoding": {"x": {"datum": -0.2, "type": "quantitative", "scale": {"domain": [-66.321, 49.569], "nice": false, "zero": false}, "axis": null},
                      "y": {"field": "r", "type": "quantitative", "scale": {"domain": [-36.836, 39.802], "reverse": true, "nice": false, "zero": false}, "axis": null}, "text": {"field": "s"}}}
      ]
    },
    {
      "layer": [
        {"data": {"name": "base"}, "transform": [{"filter": "datum.p === 'D'"}], "mark": {"type": "rule", "color": "#333", "strokeWidth": 0.7, "yOffset": 3.4},
         "encoding": {"x": {"field": "a", "type": "quantitative", "scale": {"domain": [-90.321, 25.569], "nice": false, "zero": false}, "axis": null}, "x2": {"field": "b"},
                      "y": {"field": "r", "type": "quantitative", "scale": {"domain": [-35.836, 40.802], "reverse": true, "nice": false, "zero": false}, "axis": null}}},
        {"data": {"name": "bl"}, "transform": [{"filter": "datum.p === 'D'"}], "mark": {"type": "bar", "orient": "horizontal", "size": 6.5, "color": "#111"},
         "encoding": {"x": {"field": "a", "type": "quantitative", "scale": {"domain": [-90.321, 25.569], "nice": false, "zero": false}, "axis": null}, "x2": {"field": "b"},
                      "y": {"field": "r", "type": "quantitative", "scale": {"domain": [-35.836, 40.802], "reverse": true, "nice": false, "zero": false}, "axis": null}}},
        {"data": {"name": "tk"}, "transform": [{"filter": "datum.p === 'D'"}], "mark": {"type": "tick", "orient": "vertical", "size": 6.5, "thickness": 1.5, "color": "#111"},
         "encoding": {"x": {"field": "a", "type": "quantitative", "scale": {"domain": [-90.321, 25.569], "nice": false, "zero": false}, "axis": null},
                      "y": {"field": "r", "type": "quantitative", "scale": {"domain": [-35.836, 40.802], "reverse": true, "nice": false, "zero": false}, "axis": null}}}
      ]
    }
  ],
  "resolve": {"scale": {"x": "independent", "y": "independent"}}
}
